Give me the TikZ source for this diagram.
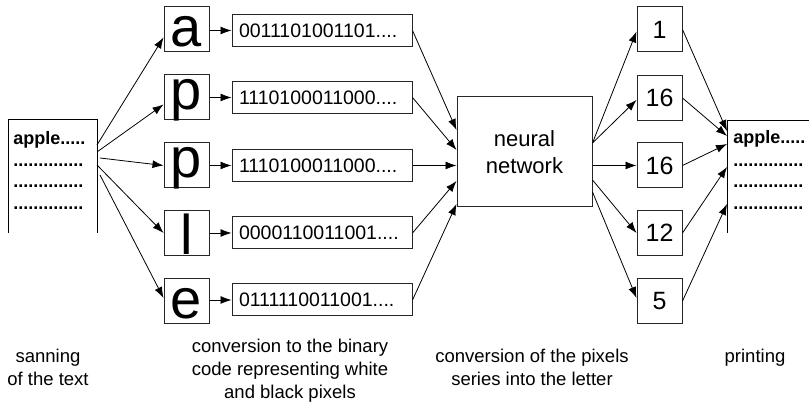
\documentclass[tikz,border=0pt]{standalone}
\usepackage{fontspec}
\setmainfont{Liberation Sans}
\usetikzlibrary{arrows.meta}
\begin{document}
\begin{tikzpicture}[x=1pt,y=-1pt,
  line width=0.8pt,
  arr/.style={-{Latex[length=11pt,width=8pt]}},
  sq/.style={draw=black!85, line width=1pt, minimum width=45pt, minimum height=45pt, inner sep=0pt},
  letter/.style={font=\fontsize{56}{56}\selectfont, inner sep=0pt},
  bin/.style={draw=black!85, line width=1pt, minimum width=180pt, minimum height=32pt, inner sep=0pt,
    text width=166pt, align=left, font=\fontsize{19.5}{20}\selectfont},
  num/.style={sq, font=\fontsize{25}{25}\selectfont},
  doctext/.style={anchor=base west, inner sep=0pt, font=\fontsize{18}{20}\selectfont\bfseries},
  captext/.style={align=center, font=\fontsize{18.5}{23}\selectfont, anchor=base, inner sep=0pt}
]
\useasboundingbox (0,0) rectangle (809,411);

% left document
\draw[line width=1pt] (8,233) -- (8,120) -- (97,120) -- (97,233);
\node[doctext] (dl0) at (13,145) {apple.....};
\node[doctext] (dl1) at (13,167) {..............};
\node[doctext] (dl2) at (13,188) {..............};
\node[doctext] (dl3) at (13,210) {..............};
\coordinate (s1) at (97,145);
\coordinate (s2) at (97,152);
\coordinate (s3) at (100,158);
\coordinate (s4) at (97,165);
\coordinate (s5) at (100,175);

% letter boxes
\node[sq] (La) at (186.5,29.5) {};
\node[sq] (Lp) at (186.5,97.5) {};
\node[sq] (Lq) at (186.5,165.5) {};
\node[sq] (Ll) at (186.5,233) {};
\node[sq] (Le) at (186.5,301) {};
\node[letter] (ta) at ([yshift=-2.5pt]La.center) {a};
\node[letter] (tp) at ([yshift=-2.5pt]Lp.center) {p};
\node[letter] (tq) at ([yshift=-2.5pt]Lq.center) {p};
\node[letter] (tl) at ([yshift=-1.5pt]Ll.center) {l};
\node[letter] (te) at ([yshift=-3pt]Le.center) {e};

% binary boxes
\node[bin] (Ba) at (322,30.5) {0011101001101....};
\node[bin] (Bp) at (322,97.5) {1110100011000....};
\node[bin] (Bq) at (322,165.5) {1110100011000....};
\node[bin] (Bl) at (322,233) {0000110011001....};
\node[bin] (Be) at (322,300) {0111110011001....};

% neural network
\node[draw=black!85, line width=1pt, minimum width=135pt, minimum height=110pt, align=center,
  font=\fontsize{22}{27}\selectfont] (NN) at (524.5,152) {neural\\network};

% output boxes
\node[num] (O1) at (659.5,29.5) {1};
\node[num] (O2) at (659.5,98) {16};
\node[num] (O3) at (659.5,165.5) {16};
\node[num] (O4) at (659.5,233) {12};
\node[num] (O5) at (659.5,301) {5};

% right document
\draw[line width=1pt] (727,233) -- (727,120.5) -- (830,120.5) -- (830,233);
\node[doctext] (dr0) at (733,144) {apple.....};
\node[doctext] (dr1) at (733,167) {..............};
\node[doctext] (dr2) at (733,188) {..............};
\node[doctext] (dr3) at (733,210) {..............};
\coordinate (r1) at (727,131);
\coordinate (r2) at (727,136);
\coordinate (r3) at (727,144);
\coordinate (r4) at (727,167);
\coordinate (r5) at (727,204);

% arrows: document -> letters
\draw[arr] (s1) -- ([yshift=-8pt]La.west);
\draw[arr] (s2) -- ([yshift=-7pt]Lp.west);
\draw[arr] (s3) -- (Lq.west);
\draw[arr] (s4) -- (Ll.west);
\draw[arr] (s5) -- ([yshift=3pt]Le.west);

% letters -> binary
\draw[arr] (La.east |- Ba) -- (Ba.west);
\draw[arr] (Lp.east |- Bp) -- (Bp.west);
\draw[arr] (Lq.east |- Bq) -- (Bq.west);
\draw[arr] (Ll.east |- Bl) -- (Bl.west);
\draw[arr] (Le.east |- Be) -- (Be.west);

% binary -> network
\draw[arr] (Ba.east) -- ([yshift=22pt]NN.west);
\draw[arr] (Bp.east) -- ([yshift=2pt]NN.west);
\draw[arr] (Bq.east) -- (NN.west |- Bq);
\draw[arr] (Bl.east) -- ([yshift=-29pt]NN.west);
\draw[arr] (Be.east) -- ([yshift=-52pt]NN.west);

% network -> outputs
\draw[arr] ([yshift=9pt]NN.east) -- ([yshift=-2pt]O1.west);
\draw[arr] ([yshift=9pt]NN.east) -- ([yshift=-2pt]O2.west);
\draw[arr] (NN.east |- O3) -- (O3.west);
\draw[arr] ([yshift=-28pt]NN.east) -- (O4.west);
\draw[arr] ([yshift=-40pt]NN.east) -- ([yshift=3pt]O5.west);

% outputs -> right document
\draw[arr] (O1.east) -- (r1);
\draw[arr] (O2.east) -- (r2);
\draw[arr] (O3.east) -- (r3);
\draw[arr] (O4.east) -- (r4);
\draw[arr] (O5.east) -- (r5);

% captions (anchor base = baseline of the last line)
\node[captext] (c1) at (48,386) {sanning\\of the text};
\node[captext] (c2) at (290,399) {conversion to the binary\\code representing white\\and black pixels};
\node[captext] (c3) at (532,386) {conversion of the pixels\\series into the letter};
\node[captext] (c4) at (755,363) {printing};
\end{tikzpicture}
\end{document}
